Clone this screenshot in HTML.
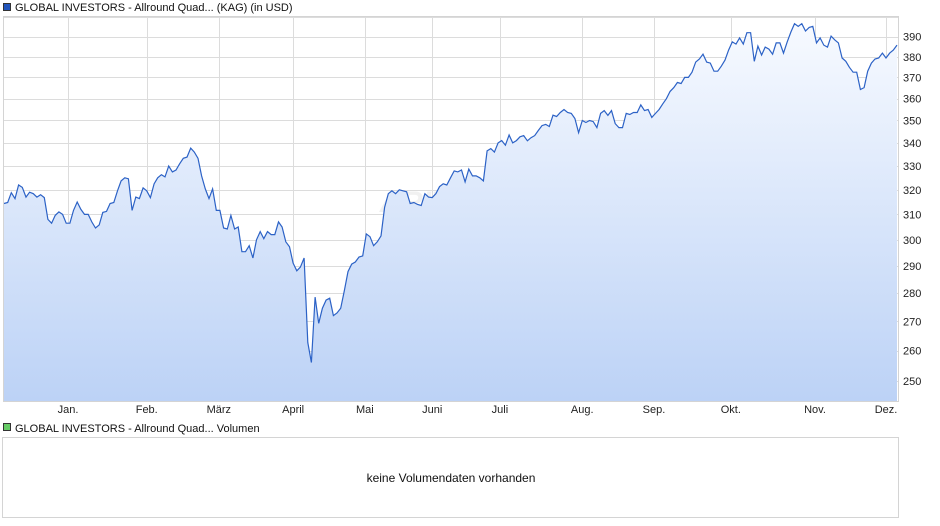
<!DOCTYPE html>
<html><head><meta charset="utf-8"><style>
body{margin:0;background:#fff;font-family:"Liberation Sans",sans-serif;}
svg{display:block}
</style></head><body>
<svg width="940" height="526" xmlns="http://www.w3.org/2000/svg" font-family="Liberation Sans, sans-serif">
<defs><linearGradient id="fg" x1="0" y1="0" x2="0" y2="1"><stop offset="0" stop-color="#f7faff"/><stop offset="1" stop-color="#bcd2f6"/></linearGradient></defs>
<g>
<rect x="3.5" y="3.5" width="7" height="7" fill="#2255bb" stroke="#333" stroke-width="1"/>
<text x="15" y="11" font-size="11" fill="#111">GLOBAL INVESTORS - Allround Quad... (KAG) (in USD)</text></g>
<g id="grid"></g>
<text x="450" y="212" font-size="30" font-weight="bold" font-style="italic" fill="#000" opacity="0.05" text-anchor="middle">ARIVA.DE</text>
<path id="area" fill="url(#fg)"/>
<path id="line" fill="none" stroke="#2c62c6" stroke-width="1.2"/>
<rect x="3.5" y="16.5" width="895" height="385" fill="none" stroke="#d4d4d4"/>
<g id="yt"></g>
<g id="xt"></g>
<g>
<rect x="3.5" y="423.5" width="7" height="7" fill="#66cc66" stroke="#333"/>
<text x="15" y="432" font-size="11" fill="#111">GLOBAL INVESTORS - Allround Quad... Volumen</text></g>
<rect x="2.5" y="437.5" width="896" height="80" fill="#fff" stroke="#d4d4d4"/>
<text x="451" y="482" font-size="12" fill="#111" text-anchor="middle">keine Volumendaten vorhanden</text>
</svg>
<script>
const prices=[314.4,314.8,318.8,316.4,322,321,317,319,318.4,317,318,316.8,308,306.5,309.6,311,310,306.5,306.5,311.6,315,312,310,310,307,304.6,305.8,310.8,311.2,314.4,314.8,319.6,323.7,325,324.6,311.6,317,316.4,320.8,319.6,316.8,322.5,325,326.3,325.4,330,327.5,328.3,331,333.3,333.8,337.7,336,333.3,325.8,320.4,316.4,320.4,311.6,311.6,304.6,304.2,309.6,304.2,305,295.4,295.4,297.7,293,300,303.2,300.4,303.2,302,302,307,305,299.2,297.3,291.1,288.2,289.6,293,
262.7,256,278.6,269.3,274.6,277.5,278.2,272,272.9,274.6,281,287.9,290.7,291.5,293.4,293.8,302.3,301.2,297.7,299.2,301.5,312.8,318.4,319.6,318.4,320,319.6,319.2,314.4,314.8,314,313.6,318.4,317,316.8,318.4,321.3,322.5,322,325,327.9,327.5,328.3,323.3,328.7,325.8,325.8,325,323.7,
336.5,337.5,336,340,341,339,343.5,340,341,
342.7,343.2,340.9,342.3,343.2,345.5,347.7,348.2,347.3,352.4,351.8,353.6,355,353.6,353.2,350.9,344.5,350,349.1,350,349.5,346.8,353.2,354.5,352.3,354.5,348.6,346.8,346.8,353.2,352.7,353.6,353.6,357.1,354.5,355,351.4,353.2,355,357.6,360,363.4,365.2,367.6,367.1,370,370,372.5,377.4,378.9,381.3,377.4,376.9,373,373,375.4,378.4,383.3,387.4,386.3,389.4,386.3,392,392,377.8,385.3,380.9,384.8,383.8,381.3,386.9,386.9,381.8,387.4,392.4,396.6,395.2,396.6,392.9,394.7,395.2,386.9,389.4,385.8,384.8,390.3,388.4,386.9,379.4,377.8,374.9,372.5,372.5,364.3,365.2,373,376.9,378.9,379.4,381.8,379.4,381.8,383.3,385.8];
const monthLabels=["Jan.","Feb.","März","April","Mai","Juni","Juli","Aug.","Sep.","Okt.","Nov.","Dez."];
const monthIdx=[17.5,39,58.7,79,98.6,117,135.5,158,177.6,198.6,221.6,241];
const yTicks=[250,260,270,280,290,300,310,320,330,340,350,360,370,380,390];
const yGrid=[400];
const NS="http://www.w3.org/2000/svg";
const x0=4,x1=897,bottom=401;
function xs(i){return x0+i*(x1-x0)/(prices.length-1);}
function ys(v){return 36.7-774*(Math.log(v)-Math.log(390));}
function mk(t,a,p){const e=document.createElementNS(NS,t);for(const k in a)e.setAttribute(k,a[k]);p.appendChild(e);return e;}
const grid=document.getElementById('grid');
yTicks.concat(yGrid).forEach(v=>{const y=Math.round(ys(v))+0.5;const l=mk('line',{x1:4,x2:898,y1:y,y2:y,stroke:'#dcdcdc'},grid);

});
monthIdx.forEach(i=>{const x=Math.round(xs(i))+0.5;const l=mk('line',{x1:x,x2:x,y1:16,y2:401,stroke:'#dcdcdc'},grid);

});
let d='';prices.forEach((v,i)=>{d+=(i?'L':'M')+xs(i).toFixed(1)+','+ys(v).toFixed(1);});
document.getElementById('line').setAttribute('d',d);
document.getElementById('area').setAttribute('d',d+'L'+xs(prices.length-1)+','+bottom+'L'+x0+','+bottom+'Z');
const yt=document.getElementById('yt');
yTicks.forEach(v=>{const t=mk('text',{x:903,y:ys(v)+4,'font-size':11,fill:'#222'},yt);t.textContent=v;

});
const xt=document.getElementById('xt');
monthLabels.forEach((m,k)=>{const t=mk('text',{x:xs(monthIdx[k]),y:413,'font-size':11,fill:'#222','text-anchor':'middle'},xt);t.textContent=m;

});
</script>
</body></html>
